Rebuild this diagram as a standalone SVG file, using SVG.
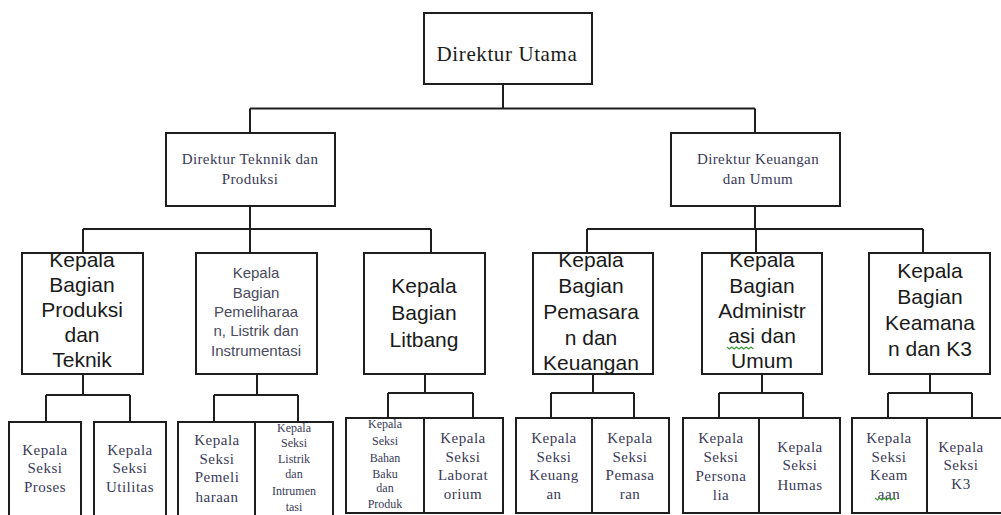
<svg xmlns="http://www.w3.org/2000/svg" width="1001" height="515" viewBox="0 0 1001 515">
<style>
.box{fill:#fff;stroke:#1e1e1e;stroke-width:2}
.con{fill:none;stroke:#1e1e1e;stroke-width:2}
.top{font-family:"Liberation Serif","Times New Roman",serif;font-size:21px;fill:#1a1a1a;text-anchor:middle;letter-spacing:0.6px}
.dir{font-family:"Liberation Serif","Times New Roman",serif;font-size:15px;fill:#3a3a58;text-anchor:middle;letter-spacing:0.4px}
.big{font-family:"Liberation Sans",Arial,sans-serif;font-size:21px;fill:#1a1a1a;text-anchor:middle}
.mid{font-family:"Liberation Sans",Arial,sans-serif;font-size:15px;fill:#4a4a5e;text-anchor:middle}
.ser{font-family:"Liberation Serif","Times New Roman",serif;font-size:15px;fill:#3a3a58;text-anchor:middle;letter-spacing:0.5px}
.sm{font-family:"Liberation Serif","Times New Roman",serif;font-size:12px;fill:#3a3a58;text-anchor:middle}
.sq{fill:none;stroke:#3a9a3a;stroke-width:1.2}
</style>
<rect width="1001" height="515" fill="#fff"/>
<g id="connectors">
<path class="con" d="M503 84V108.5M250 108.5H755M250 108.5V133M755 108.5V133"/>
<path class="con" d="M250 206V229M83 229H431M83 229V253M250 229V253M431 229V253"/>
<path class="con" d="M755 206V229M587 229H923M587 229V253M756 229V253M923 229V253"/>
<path class="con" d="M83 374V395M46 395H130M46 395V422M130 395V422"/>
<path class="con" d="M257 374V395M214 395H298M214 395V422M298 395V422"/>
<path class="con" d="M425 374V393M388 393H473M388 393V418M473 393V418"/>
<path class="con" d="M593 374V393M551 393H634M551 393V418M634 393V418"/>
<path class="con" d="M762 374V393M719 393H803M719 393V418M803 393V418"/>
<path class="con" d="M930 374V393M888 393H972M888 393V418M972 393V418"/>
</g>
<g id="direktur-utama"><rect class="box" x="424" y="13" width="168" height="71"/><text class="top" x="507" y="61">Direktur Utama</text></g>
<g id="direktur-teknik"><rect class="box" x="166" y="133" width="169" height="73"/><text class="dir" x="250" y="164">Direktur Teknnik dan</text><text class="dir" x="250" y="184">Produksi</text></g>
<g id="direktur-keuangan"><rect class="box" x="671" y="133" width="169" height="73"/><text class="dir" x="758" y="164">Direktur Keuangan</text><text class="dir" x="758" y="184">dan Umum</text></g>
<g id="kb-produksi"><rect class="box" x="22" y="253" width="121" height="121"/><text class="big" x="82" y="267">Kepala</text><text class="big" x="82" y="292">Bagian</text><text class="big" x="82" y="317">Produksi</text><text class="big" x="82" y="342">dan</text><text class="big" x="82" y="367">Teknik</text></g>
<g id="kb-pemeliharaan"><rect class="box" x="196" y="253" width="121" height="121"/><text class="mid" x="256" y="278">Kepala</text><text class="mid" x="256" y="298">Bagian</text><text class="mid" x="256" y="317">Pemeliharaa</text><text class="mid" x="256" y="336">n, Listrik dan</text><text class="mid" x="256" y="356">Instrumentasi</text></g>
<g id="kb-litbang"><rect class="box" x="364" y="253" width="121" height="121"/><text class="big" x="424" y="293">Kepala</text><text class="big" x="424" y="320">Bagian</text><text class="big" x="424" y="347">Litbang</text></g>
<g id="kb-pemasaran"><rect class="box" x="533" y="253" width="120" height="121"/><text class="big" x="591" y="267">Kepala</text><text class="big" x="591" y="293">Bagian</text><text class="big" x="591" y="319">Pemasara</text><text class="big" x="591" y="345">n dan</text><text class="big" x="591" y="370">Keuangan</text></g>
<g id="kb-administrasi"><rect class="box" x="702" y="253" width="120" height="121"/><text class="big" x="762" y="267">Kepala</text><text class="big" x="762" y="293">Bagian</text><text class="big" x="762" y="318">Administr</text><text class="big" x="762" y="343">asi dan</text><text class="big" x="762" y="368">Umum</text><path class="sq" d="M727 347l2.4 2 2.4-2 2.4 2 2.4-2 2.4 2 2.4-2 2.4 2 2.4-2 2.4 2 2.4-2 2.4 2"/></g>
<g id="kb-keamanan"><rect class="box" x="869" y="253" width="121" height="121"/><text class="big" x="930" y="278">Kepala</text><text class="big" x="930" y="304">Bagian</text><text class="big" x="930" y="330">Keamana</text><text class="big" x="930" y="356">n dan K3</text></g>
<g id="ks-proses"><rect class="box" x="9" y="422" width="72" height="100"/><text class="ser" x="45" y="455">Kepala</text><text class="ser" x="45" y="473">Seksi</text><text class="ser" x="45" y="492">Proses</text></g>
<g id="ks-utilitas"><rect class="box" x="94" y="422" width="72" height="100"/><text class="ser" x="130" y="455">Kepala</text><text class="ser" x="130" y="473">Seksi</text><text class="ser" x="130" y="492">Utilitas</text></g>
<g id="ks-pemeliharaan"><rect class="box" x="178" y="422" width="77" height="100"/><text class="ser" x="217" y="445">Kepala</text><text class="ser" x="217" y="464">Seksi</text><text class="ser" x="217" y="482">Pemeli</text><text class="ser" x="217" y="502">haraan</text></g>
<g id="ks-listrik"><rect class="box" x="255" y="422" width="78" height="100"/><text class="sm" x="294" y="432">Kepala</text><text class="sm" x="294" y="447">Seksi</text><text class="sm" x="294" y="463">Listrik</text><text class="sm" x="294" y="478">dan</text><text class="sm" x="294" y="495">Intrumen</text><text class="sm" x="294" y="511">tasi</text></g>
<g id="ks-bahan"><rect class="box" x="346" y="418" width="78" height="95"/><text class="sm" x="385" y="428">Kepala</text><text class="sm" x="385" y="445">Seksi</text><text class="sm" x="385" y="462">Bahan</text><text class="sm" x="385" y="478">Baku</text><text class="sm" x="385" y="492">dan</text><text class="sm" x="385" y="508">Produk</text></g>
<g id="ks-laboratorium"><rect class="box" x="424" y="418" width="79" height="95"/><text class="ser" x="463" y="443">Kepala</text><text class="ser" x="463" y="462">Seksi</text><text class="ser" x="463" y="480">Laborat</text><text class="ser" x="463" y="499">orium</text></g>
<g id="ks-keuangan"><rect class="box" x="516" y="418" width="76" height="95"/><text class="ser" x="554" y="443">Kepala</text><text class="ser" x="554" y="462">Seksi</text><text class="ser" x="554" y="480">Keuang</text><text class="ser" x="554" y="499">an</text></g>
<g id="ks-pemasaran"><rect class="box" x="592" y="418" width="77" height="95"/><text class="ser" x="630" y="443">Kepala</text><text class="ser" x="630" y="462">Seksi</text><text class="ser" x="630" y="480">Pemasa</text><text class="ser" x="630" y="499">ran</text></g>
<g id="ks-personalia"><rect class="box" x="683" y="418" width="76" height="95"/><text class="ser" x="721" y="443">Kepala</text><text class="ser" x="721" y="462">Seksi</text><text class="ser" x="721" y="481">Persona</text><text class="ser" x="721" y="500">lia</text></g>
<g id="ks-humas"><rect class="box" x="759" y="418" width="81" height="95"/><text class="ser" x="800" y="452">Kepala</text><text class="ser" x="800" y="470">Seksi</text><text class="ser" x="800" y="490">Humas</text></g>
<g id="ks-keamanan"><rect class="box" x="852" y="418" width="75" height="95"/><text class="ser" x="889" y="443">Kepala</text><text class="ser" x="889" y="462">Seksi</text><text class="ser" x="889" y="480">Keam</text><text class="ser" x="889" y="499">aan</text><path class="sq" d="M875 498l2.3 2 2.3-2 2.3 2 2.3-2 2.3 2 2.3-2 2.3 2 2.3-2 2.3 2"/></g>
<g id="ks-k3"><rect class="box" x="927" y="418" width="84" height="95"/><text class="ser" x="961" y="452">Kepala</text><text class="ser" x="961" y="470">Seksi</text><text class="ser" x="961" y="489">K3</text></g>
</svg>
